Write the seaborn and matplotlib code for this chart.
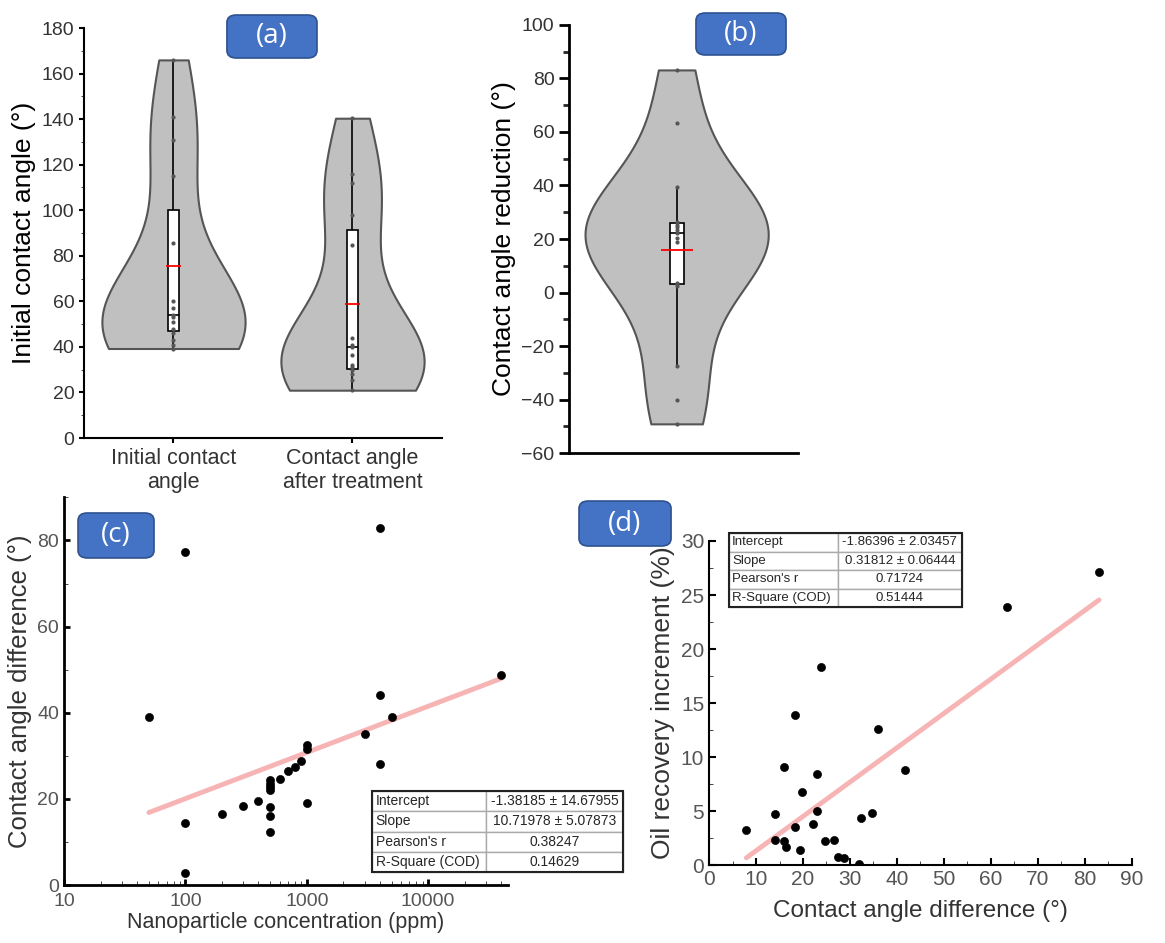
import numpy as np
import pandas as pd
import matplotlib
matplotlib.use('Agg')
import matplotlib.pyplot as plt
from matplotlib.patches import FancyBboxPatch, Rectangle
from matplotlib.ticker import MultipleLocator, LogLocator, NullFormatter
import seaborn as sns

# ---- data ----
initial_angle = [39.3, 41, 43, 46, 48, 51, 53, 54, 57, 60, 85.5, 115, 131, 141, 166]
after_angle = [21, 25.4, 28, 29.8, 31.2, 32, 36.6, 40, 41, 44, 84.7, 98, 112, 116, 140.4]
angle_cats = ['Initial contact\nangle', 'Contact angle\nafter treatment']

reduction = [-49.1, -40, -27.6, 2.5, 3.7, 19, 20.5, 22.2, 23.5, 24.5, 25.3, 26.5, 39.4, 63.3, 83.2]

conc_ppm = [50, 100, 100, 100, 200, 300, 400, 500, 500, 500, 500, 500, 500, 500,
            600, 700, 800, 900, 1000, 1000, 1000, 3000, 4000, 4000, 4000, 5000, 40000]
conc_diff = [39, 77.3, 14.3, 2.9, 16.4, 18.4, 19.5, 24.3, 23.5, 22.7, 22, 18.1, 16, 12.3,
             24.6, 26.4, 27.5, 28.8, 32.4, 31.6, 19.1, 35, 82.8, 44.2, 28, 39, 48.8]
fit_c = (-1.38185, 10.71978)
table_c = [['Intercept', '-1.38185 ± 14.67955'],
           ['Slope', '10.71978 ± 5.07873'],
           ["Pearson's r", '0.38247'],
           ['R-Square (COD)', '0.14629']]

ca_diff = [7.95, 14, 14, 16, 16, 16.3, 18.4, 18.4, 19.3, 19.8, 22.2, 23, 23, 23.9,
           24.6, 26.5, 27.5, 28.7, 32, 32.4, 34.6, 35.9, 41.8, 63.4, 83]
oil_inc = [3.24, 4.72, 2.31, 9.1, 2.22, 1.7, 13.9, 3.55, 1.39, 6.78, 3.76, 8.42, 5.0, 18.3,
           2.22, 2.31, 0.77, 0.65, 0.06, 4.32, 4.84, 12.55, 8.79, 23.9, 27.1]
fit_d = (-1.86396, 0.31812)
table_d = [['Intercept', '-1.86396 ± 2.03457'],
           ['Slope', '0.31812 ± 0.06444'],
           ["Pearson's r", '0.71724'],
           ['R-Square (COD)', '0.51444']]

sns.set_style('ticks')
plt.rcParams['font.family'] = ['Liberation Sans', 'DejaVu Sans']

VIOLIN = '#c0c0c0'
EDGE = '#555555'
TXT = '#333333'
PINK = '#f7b4b4'
BLUE = '#4472C4'

fig = plt.figure(figsize=(11.65, 9.43), dpi=100)


def style_axes(ax, lw=1.5):
    sns.despine(ax=ax)
    for s in ['left', 'bottom']:
        ax.spines[s].set_linewidth(lw)
        ax.spines[s].set_color('black')
    ax.tick_params(colors='black', labelcolor=TXT, labelsize=14, width=lw)


def violin_box(ax, df, x, y, box_w, mean_w):
    sns.violinplot(data=df, x=x, y=y, ax=ax, cut=0, inner=None, density_norm='width',
                   width=0.8, color=VIOLIN, linecolor=EDGE, linewidth=1.5, saturation=1)
    sns.boxplot(data=df, x=x, y=y, ax=ax, width=box_w, color='white', linecolor='black',
                linewidth=1.2, showfliers=False, showcaps=False, saturation=1)
    sns.stripplot(data=df, x=x, y=y, ax=ax, jitter=False, size=3, color='#555555')
    means = df.groupby(x, sort=False, observed=True)[y].mean()
    for i, m in enumerate(means.values):
        ax.hlines(m, i - mean_w / 2, i + mean_w / 2, color='red', lw=1.3, zorder=5)


# ---- (a) ----
ax_a = fig.add_axes([0.0721, 0.5355, 0.3073, 0.4348])
df_a = pd.DataFrame({
    'group': [angle_cats[0]] * len(initial_angle) + [angle_cats[1]] * len(after_angle),
    'angle': initial_angle + after_angle,
})
df_a['group'] = pd.Categorical(df_a['group'], categories=angle_cats, ordered=True)
violin_box(ax_a, df_a, 'group', 'angle', 0.06, 0.085)
ax_a.set_xlim(-0.5, 1.5)
ax_a.set_ylim(0, 180)
ax_a.yaxis.set_major_locator(MultipleLocator(20))
ax_a.yaxis.set_minor_locator(MultipleLocator(10))
ax_a.set_xlabel('')
ax_a.set_ylabel('Initial contact angle (°)', fontsize=19, color='black')
style_axes(ax_a)
ax_a.tick_params(axis='x', labelsize=15.5)

# ---- (b) ----
ax_b = fig.add_axes([0.4884, 0.5196, 0.1966, 0.4539])
df_b = pd.DataFrame({'group': ['r'] * len(reduction), 'reduction': reduction})
violin_box(ax_b, df_b, 'group', 'reduction', 0.06, 0.14)
ax_b.set_xlim(-0.47, 0.53)
ax_b.set_ylim(-60, 100)
ax_b.yaxis.set_major_locator(MultipleLocator(20))
ax_b.yaxis.set_minor_locator(MultipleLocator(10))
ax_b.set_xticks([])
ax_b.set_xlabel('')
ax_b.set_ylabel('Contact angle reduction (°)', fontsize=19, color='black')
style_axes(ax_b, lw=2)
ax_b.tick_params(axis='y', which='major', length=7)
ax_b.tick_params(axis='y', which='minor', length=4, width=2)


def add_table(ax, rows, bbox, colw, fs):
    tb = ax.table(cellText=rows, colWidths=colw, cellLoc='center', bbox=bbox)
    tb.auto_set_font_size(False)
    tb.set_fontsize(fs)
    for (r, c), cell in tb.get_celld().items():
        cell.set_edgecolor('#aaaaaa')
        cell.set_linewidth(1)
        if c == 0:
            cell.set_text_props(ha='left')
            cell.PAD = 0.03
    tb.set_clip_on(False)
    ax.add_patch(Rectangle((bbox[0], bbox[1]), bbox[2], bbox[3], transform=ax.transAxes,
                           fill=False, ec='#222222', lw=1.5, clip_on=False, zorder=10))


# ---- (c) ----
ax_c = fig.add_axes([0.055, 0.0615, 0.381, 0.411])
df_c = pd.DataFrame({'conc': conc_ppm, 'diff': conc_diff})
sns.scatterplot(data=df_c, x='conc', y='diff', ax=ax_c, color='black', s=34,
                edgecolor='black', zorder=3)
xs_c = np.array([min(conc_ppm), max(conc_ppm)], dtype=float)
sns.lineplot(x=xs_c, y=fit_c[0] + fit_c[1] * np.log10(xs_c), ax=ax_c, color=PINK, lw=3.5,
             zorder=2)
ax_c.set_xscale('log')
ax_c.set_xlim(10, 45500)
ax_c.set_ylim(0, 90)
ax_c.set_xticks([10, 100, 1000, 10000])
ax_c.set_xticklabels(['10', '100', '1000', '10000'])
ax_c.xaxis.set_minor_locator(LogLocator(base=10, subs=np.arange(2, 10)))
ax_c.xaxis.set_minor_formatter(NullFormatter())
ax_c.yaxis.set_major_locator(MultipleLocator(20))
ax_c.yaxis.set_minor_locator(MultipleLocator(10))
ax_c.set_xlabel('Nanoparticle concentration (ppm)', fontsize=15.5, color='#333333',
                labelpad=1)
ax_c.set_ylabel('Contact angle difference (°)', fontsize=18.5, color='#333333')
style_axes(ax_c, lw=2)
ax_c.tick_params(which='both', direction='in', labelsize=14, labelcolor='#555555')
ax_c.tick_params(which='major', length=4)
ax_c.tick_params(which='minor', length=3)
ax_c.tick_params(axis='x', pad=6)
add_table(ax_c, table_c, [0.694, 0.0335, 0.565, 0.209], [0.454, 0.546], 10)

# ---- (d) ----
ax_d = fig.add_axes([0.6086, 0.0827, 0.363, 0.3436])
df_d = pd.DataFrame({'ca': ca_diff, 'oil': oil_inc})
sns.scatterplot(data=df_d, x='ca', y='oil', ax=ax_d, color='black', s=34,
                edgecolor='black', zorder=3)
xs_d = np.array([min(ca_diff), max(ca_diff)])
sns.lineplot(x=xs_d, y=fit_d[0] + fit_d[1] * xs_d, ax=ax_d, color=PINK, lw=3.5, zorder=2)
ax_d.set_xlim(0, 90)
ax_d.set_ylim(0, 30)
ax_d.xaxis.set_major_locator(MultipleLocator(10))
ax_d.xaxis.set_minor_locator(MultipleLocator(5))
ax_d.yaxis.set_major_locator(MultipleLocator(5))
ax_d.yaxis.set_minor_locator(MultipleLocator(2.5))
ax_d.set_xlabel('Contact angle difference (°)', fontsize=17.5, color='#333333', labelpad=8)
ax_d.set_ylabel('Oil recovery increment (%)', fontsize=19, color='#333333')
style_axes(ax_d, lw=1.5)
ax_d.tick_params(which='both', direction='in', labelsize=15, labelcolor='#555555')
ax_d.tick_params(which='major', length=5)
ax_d.tick_params(which='minor', length=3)
add_table(ax_d, table_d, [0.047, 0.796, 0.551, 0.228], [0.468, 0.532], 9.5)

# ---- panel tags ----
for tag, (x0, y0, w, h) in {'(a)': (0.1948, 0.9385, 0.0773, 0.0456),
                            '(b)': (0.5974, 0.9417, 0.0773, 0.0445),
                            '(c)': (0.0670, 0.4083, 0.0652, 0.0477),
                            '(d)': (0.4970, 0.4210, 0.0790, 0.0477)}.items():
    fig.patches.append(FancyBboxPatch((x0, y0), w, h, boxstyle='round,pad=0,rounding_size=0.008',
                                      transform=fig.transFigure, fc=BLUE, ec='#2F528F', lw=1.2))
    fig.text(x0 + w / 2, y0 + h / 2, tag, ha='center', va='center', color='white',
             fontsize=20, family=['Open Sans', 'DejaVu Sans'])

fig.savefig('out.png', dpi=100, facecolor='white')
